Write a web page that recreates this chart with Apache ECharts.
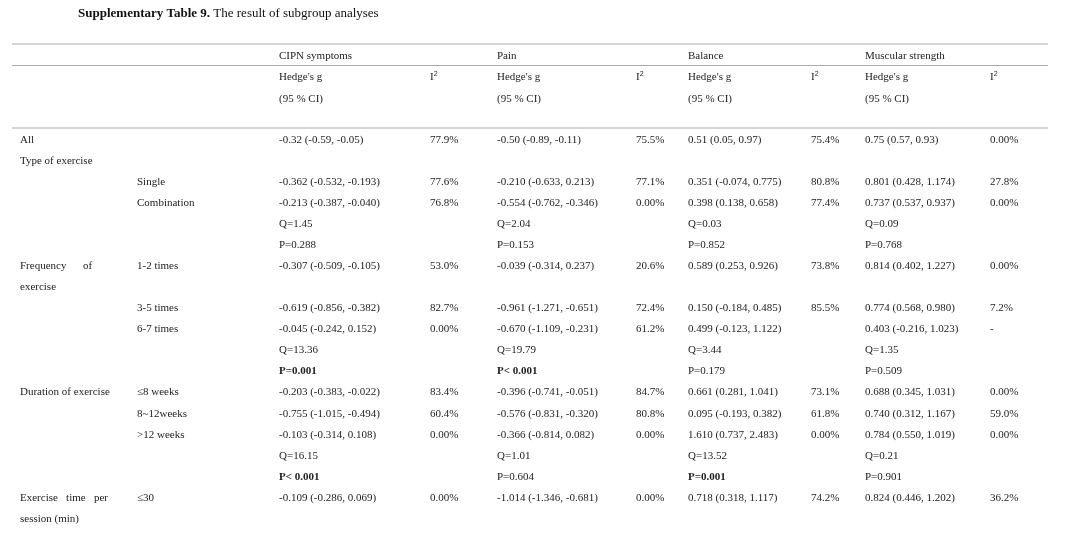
<!DOCTYPE html>
<html>
<head>
<meta charset="utf-8">
<script src="https://cdn.jsdelivr.net/npm/echarts@6/dist/echarts.min.js"></script>
<style>
html, body { margin: 0; width: 100%; height: 100%; background: #fff; }
#chart { width: 1080px; height: 540px; }
</style>
</head>
<body>
<div id="chart"></div>
<script>
// outcome headers
var outcomes = ['CIPN symptoms', 'Pain', 'Balance', 'Muscular strength'];
// row labels: [group label, subgroup label]
var groupLabels = ['All', 'Type of exercise', '', '', '', '', 'Frequency      of', 'exercise', '', '', '', '',
  'Duration of exercise', '', '', '', '', 'Exercise   time   per', 'session (min)'];
var subLabels = ['', '', 'Single', 'Combination', '', '', '1-2 times', '', '3-5 times', '6-7 times', '', '',
  '≤8 weeks', '8~12weeks', '>12 weeks', '', '', '≤30', ''];
// Hedge's g (95% CI) per outcome, row-aligned with labels
var cipnG = ['-0.32 (-0.59, -0.05)', '', '-0.362 (-0.532, -0.193)', '-0.213 (-0.387, -0.040)', 'Q=1.45', 'P=0.288',
  '-0.307 (-0.509, -0.105)', '', '-0.619 (-0.856, -0.382)', '-0.045 (-0.242, 0.152)', 'Q=13.36', 'P=0.001',
  '-0.203 (-0.383, -0.022)', '-0.755 (-1.015, -0.494)', '-0.103 (-0.314, 0.108)', 'Q=16.15', 'P< 0.001',
  '-0.109 (-0.286, 0.069)', ''];
var cipnI2 = ['77.9%', '', '77.6%', '76.8%', '', '', '53.0%', '', '82.7%', '0.00%', '', '',
  '83.4%', '60.4%', '0.00%', '', '', '0.00%', ''];
var painG = ['-0.50 (-0.89, -0.11)', '', '-0.210 (-0.633, 0.213)', '-0.554 (-0.762, -0.346)', 'Q=2.04', 'P=0.153',
  '-0.039 (-0.314, 0.237)', '', '-0.961 (-1.271, -0.651)', '-0.670 (-1.109, -0.231)', 'Q=19.79', 'P< 0.001',
  '-0.396 (-0.741, -0.051)', '-0.576 (-0.831, -0.320)', '-0.366 (-0.814, 0.082)', 'Q=1.01', 'P=0.604',
  '-1.014 (-1.346, -0.681)', ''];
var painI2 = ['75.5%', '', '77.1%', '0.00%', '', '', '20.6%', '', '72.4%', '61.2%', '', '',
  '84.7%', '80.8%', '0.00%', '', '', '0.00%', ''];
var balG = ['0.51 (0.05, 0.97)', '', '0.351 (-0.074, 0.775)', '0.398 (0.138, 0.658)', 'Q=0.03', 'P=0.852',
  '0.589 (0.253, 0.926)', '', '0.150 (-0.184, 0.485)', '0.499 (-0.123, 1.122)', 'Q=3.44', 'P=0.179',
  '0.661 (0.281, 1.041)', '0.095 (-0.193, 0.382)', '1.610 (0.737, 2.483)', 'Q=13.52', 'P=0.001',
  '0.718 (0.318, 1.117)', ''];
var balI2 = ['75.4%', '', '80.8%', '77.4%', '', '', '73.8%', '', '85.5%', '', '', '',
  '73.1%', '61.8%', '0.00%', '', '', '74.2%', ''];
var musG = ['0.75 (0.57, 0.93)', '', '0.801 (0.428, 1.174)', '0.737 (0.537, 0.937)', 'Q=0.09', 'P=0.768',
  '0.814 (0.402, 1.227)', '', '0.774 (0.568, 0.980)', '0.403 (-0.216, 1.023)', 'Q=1.35', 'P=0.509',
  '0.688 (0.345, 1.031)', '0.740 (0.312, 1.167)', '0.784 (0.550, 1.019)', 'Q=0.21', 'P=0.901',
  '0.824 (0.446, 1.202)', ''];
var musI2 = ['0.00%', '', '27.8%', '0.00%', '', '', '0.00%', '', '7.2%', '-', '', '',
  '0.00%', '59.0%', '0.00%', '', '', '36.2%', ''];
var boldCells = ['P=0.001', 'P< 0.001'];
var boldBalRows = [16]; // balance P=0.001 bold; other bold P values in CIPN/Pain

var font = '"Liberation Serif", "DejaVu Serif", serif';
var gX = [279, 497, 688, 865];
var iX = [430, 636, 811, 990];
var rowY0 = 140, rowH = 21.05;
var els = [];

function txt(x, y, s, bold, size) {
  if (!s) return;
  els.push({ type: 'text', x: x, y: y, style: { text: s, font: (bold ? 'bold ' : '') + (size || 11) + 'px ' + font, fill: '#222', textVerticalAlign: 'middle' } });
}
function hline(y) {
  els.push({ type: 'line', shape: { x1: 12, y1: y, x2: 1048, y2: y }, style: { stroke: '#aaa', lineWidth: 1 } });
}

els.push({ type: 'text', x: 78, y: 14, style: {
  text: '{b|Supplementary Table 9.} The result of subgroup analyses',
  font: '13px ' + font, fill: '#111', textVerticalAlign: 'middle',
  rich: { b: { fontWeight: 'bold', fontSize: 13, fontFamily: font } } } });

hline(44); hline(65.5); hline(128);
outcomes.forEach(function (o, i) {
  txt(gX[i], 56, o);
  txt(gX[i], 77, "Hedge's g");
  txt(gX[i], 99, '(95 % CI)');
  els.push({ type: 'text', x: iX[i], y: 77, style: { text: 'I{s|2}', font: '11px ' + font, fill: '#222', textVerticalAlign: 'middle', rich: { s: { fontSize: 7, verticalAlign: 'top', padding: [0, 0, 6, 0] } } } });
});

var gCols = [cipnG, painG, balG, musG];
var iCols = [cipnI2, painI2, balI2, musI2];
groupLabels.forEach(function (g, r) {
  var y = rowY0 + r * rowH;
  txt(20, y, g);
  txt(137, y, subLabels[r]);
  gCols.forEach(function (col, c) {
    var v = col[r];
    txt(gX[c], y, v, boldCells.indexOf(v) >= 0);
    txt(iX[c], y, iCols[c][r]);
  });
});

var chart = echarts.init(document.getElementById('chart'));
chart.setOption({ animation: false, backgroundColor: '#fff', graphic: { elements: els } });
</script>
</body>
</html>
